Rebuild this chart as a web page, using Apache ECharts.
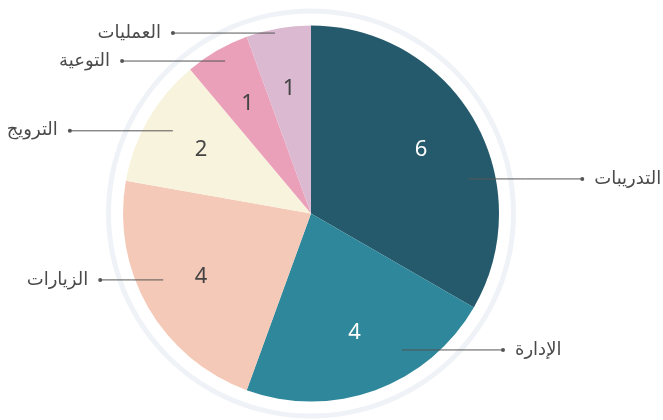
<!DOCTYPE html>
<html><head><meta charset="utf-8">
<script src="https://cdn.jsdelivr.net/npm/echarts/dist/echarts.min.js"></script>
<style>html,body{margin:0;padding:0;background:#fff}#c{width:663px;height:420px}</style>
</head><body><div id="c"></div>
<script>
const categories = ['التدريبات','الإدارة','الزيارات','الترويج','التوعية','العمليات'];
const values = [6, 4, 4, 2, 1, 1];
const colors = ['#255a6c','#2e879a','#f5c9b7','#f7f3dd','#eba0ba','#dbb9d0'];
const valueLabelColors = ['#ffffff','#ffffff','#444444','#444444','#444444','#444444'];
// label-line layout: start angle (deg clockwise from top), start radius, horizontal length
const labelAnchorAngle = [77.6, 146.3, 245.8, 300.9, 330.6, 348.7];
const labelAnchorRadius = [161, 164, 162, 161, 175, 184];
const labelLineLength = [114, 101, 63, 103, 103, 102];

const CX = 311, CY = 213.5, R = 188;
const isRight = i => Math.sin(labelAnchorAngle[i] * Math.PI / 180) > 0;

const chart = echarts.init(document.getElementById('c'), null, {renderer: 'canvas'});
chart.setOption({
  animation: false,
  series: [
    {
      type: 'pie', silent: true, z: 0, center: [CX, CY], radius: [200, 205],
      label: {show: false}, labelLine: {show: false},
      itemStyle: {color: '#eff3f7'},
      data: [{value: 1, name: 'ring'}]
    },
    {
      type: 'pie', silent: true, z: 1, center: [CX, CY], radius: [0, R],
      startAngle: 90, clockwise: true,
      label: {show: false}, labelLine: {show: false},
      data: categories.map((n, i) => ({name: n, value: values[i], itemStyle: {color: colors[i]}}))
    },
    {
      type: 'pie', silent: true, z: 5, center: [CX, CY], radius: [60, R],
      startAngle: 90, clockwise: true,
      itemStyle: {color: 'rgba(0,0,0,0)'},
      label: {show: true, position: 'inside', formatter: '{c}', fontSize: 22,
              fontFamily: 'Noto Sans', fontWeight: 'normal'},
      labelLine: {show: false},
      data: categories.map((n, i) => ({name: n, value: values[i], label: {color: valueLabelColors[i]}}))
    },
    {
      type: 'pie', silent: true, z: 6, center: [CX, CY], radius: [0, R],
      startAngle: 90, clockwise: true, avoidLabelOverlap: false,
      itemStyle: {color: 'rgba(0,0,0,0)'},
      label: {
        show: true, position: 'outside',
        formatter: p => isRight(p.dataIndex) ? '{dot|}{gap|}{n|' + p.name + '}' : '{n|' + p.name + '}{gap|}{dot|}',
        rich: {
          dot: {width: 4, height: 4, backgroundColor: '#555', borderRadius: 2},
          gap: {width: 10},
          n: {fontSize: 18, color: '#4a4a4a', fontFamily: 'DejaVu Sans'}
        }
      },
      labelLine: {show: true, length: 10, length2: 10, lineStyle: {color: '#555', width: 1}},
      labelLayout: function (p) {
        const i = p.dataIndex;
        const a = labelAnchorAngle[i] * Math.PI / 180;
        const ax = CX + labelAnchorRadius[i] * Math.sin(a);
        const ay = CY - labelAnchorRadius[i] * Math.cos(a);
        const right = isRight(i);
        const ex = right ? ax + labelLineLength[i] : ax - labelLineLength[i];
        return {
          x: right ? ex - 2 : ex + 2, y: ay,
          align: right ? 'left' : 'right', verticalAlign: 'middle',
          labelLinePoints: [[ax, ay], [(ax + ex) / 2, ay], [ex, ay]]
        };
      },
      data: categories.map((n, i) => ({name: n, value: values[i]}))
    }
  ]
});
</script></body></html>
